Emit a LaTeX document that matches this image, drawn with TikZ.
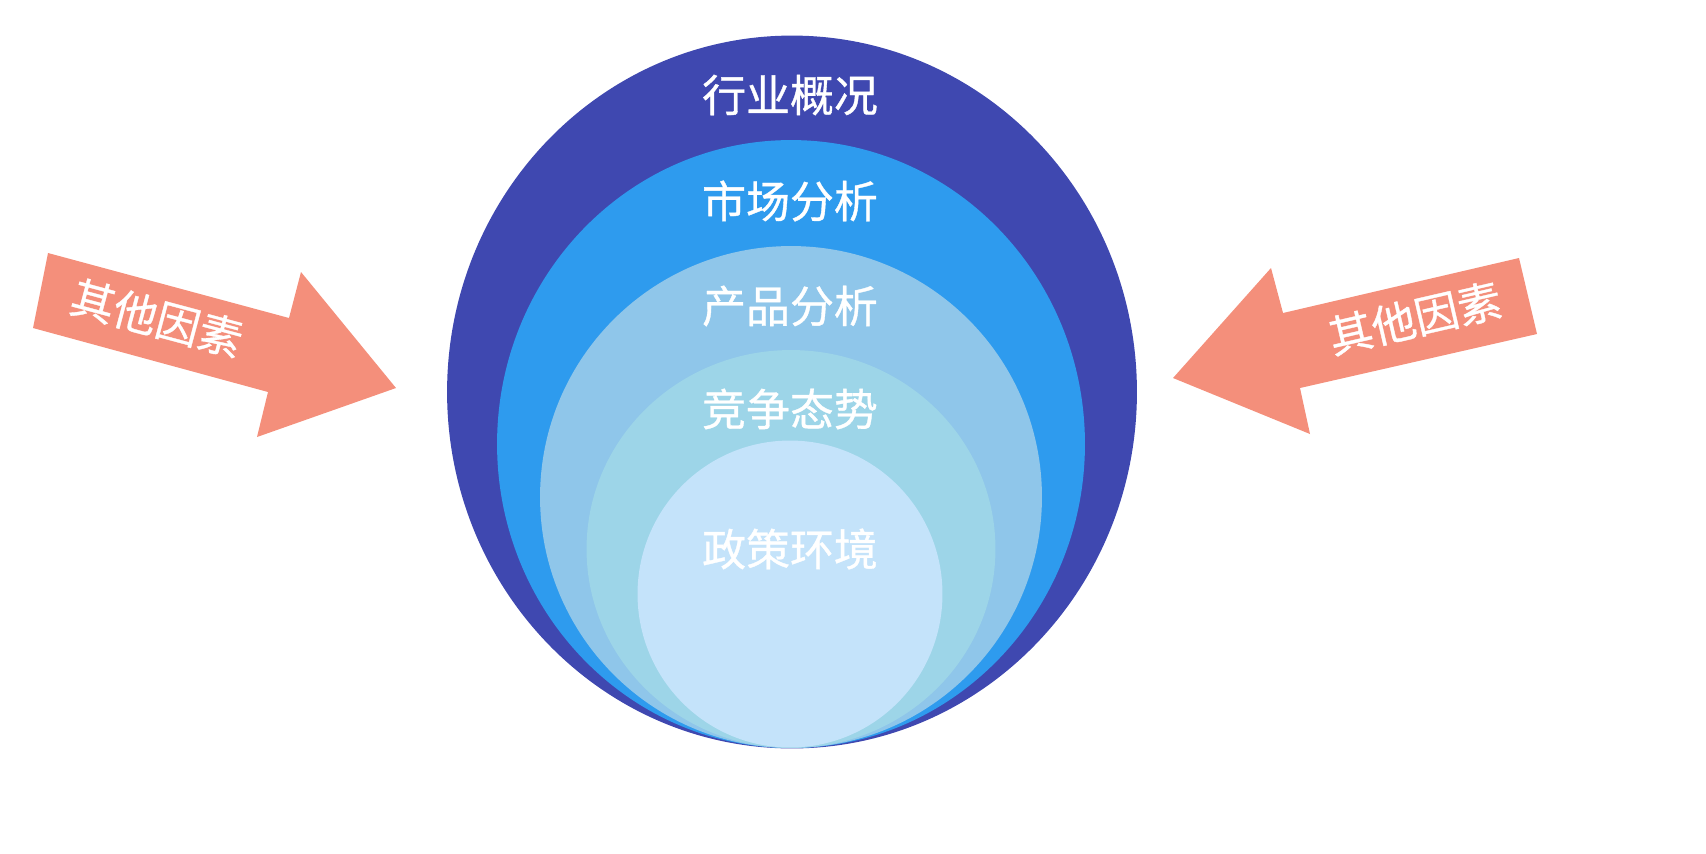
\documentclass[tikz,border=0pt]{standalone}
\usepackage{fontspec}
\newfontfamily\cjk[FakeBold=0.8]{Noto Sans CJK SC}
\usetikzlibrary{shapes.geometric}
\definecolor{c1}{HTML}{3F48B0}
\definecolor{c2}{HTML}{2E9BEE}
\definecolor{c3}{HTML}{8FC6EA}
\definecolor{c4}{HTML}{9DD5E8}
\definecolor{c5}{HTML}{C4E3FA}
\definecolor{arr}{HTML}{F48F7B}
\tikzset{
  ring/.style={ellipse,inner sep=0pt,draw=none},
  lab/.style={text=white,inner sep=1pt,font=\cjk\fontsize{25}{28}\selectfont},
  arrowshape/.style={fill=arr,draw=none}
}
\begin{document}
\begin{tikzpicture}[x=0.02cm,y=-0.02cm]
\useasboundingbox (0,0) rectangle (1706,853);
\clip (0,0) rectangle (1706,853);
\node[ring,fill=c1,minimum width=13.8cm,minimum height=14.26cm] (r1) at (792,392) {};
\node[ring,fill=c2,minimum width=11.76cm,minimum height=12.16cm] (r2) at (791,444) {};
\node[ring,fill=c3,minimum width=10.04cm,minimum height=10.04cm] (r3) at (791,497) {};
\node[ring,fill=c4,minimum width=8.18cm,minimum height=7.96cm] (r4) at (791,549) {};
\node[ring,fill=c5,minimum width=6.1cm,minimum height=6.14cm] (r5) at (790,594) {};
\node[lab] (t1) at (790,95) {行业概况};
\node[lab] (t2) at (790,201) {市场分析};
\node[lab] (t3) at (790,306) {产品分析};
\node[lab] (t4) at (790,409) {竞争态势};
\node[lab] (t5) at (790,549) {政策环境};
\fill[arrowshape] (48,253) -- (289,318) -- (301,272) -- (396,388) -- (257,437) -- (268,392) -- (33,328) -- cycle;
\fill[arrowshape] (1519,258) -- (1537,334) -- (1300,388) -- (1310,434) -- (1173,378) -- (1271,268) -- (1283,313) -- cycle;
\node[lab,rotate=-15] (la) at (157,318) {其他因素};
\node[lab,rotate=13] (ra) at (1415,318) {其他因素};
\end{tikzpicture}
\end{document}
